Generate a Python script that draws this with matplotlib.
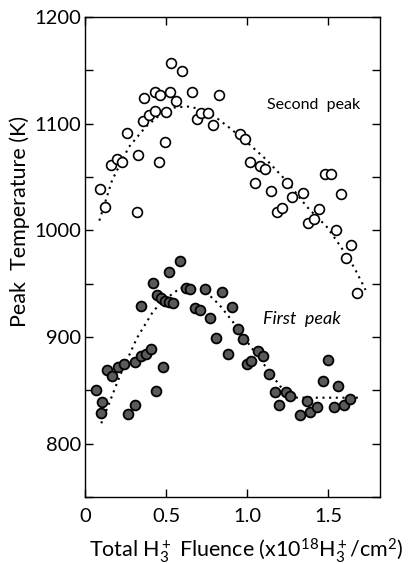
import matplotlib
matplotlib.use("Agg")
import matplotlib.pyplot as plt
from matplotlib.ticker import MultipleLocator

plt.rcParams['font.family'] = ['Lato', 'DejaVu Sans']
plt.rcParams['mathtext.fontset'] = 'custom'
plt.rcParams['mathtext.rm'] = 'Lato'
plt.rcParams['mathtext.it'] = 'Lato'

# Second peak (open circles)
second_x = [0.090, 0.121, 0.160, 0.196, 0.229, 0.260, 0.322, 0.328, 0.359, 0.365,
            0.392, 0.430, 0.432, 0.457, 0.465, 0.494, 0.498, 0.523, 0.527, 0.562,
            0.595, 0.657, 0.688, 0.717, 0.757, 0.788, 0.825, 0.955, 0.987, 1.017,
            1.047, 1.078, 1.111, 1.146, 1.181, 1.212, 1.247, 1.279, 1.345, 1.376,
            1.411, 1.442, 1.477, 1.514, 1.548, 1.581, 1.610, 1.641, 1.674]
second_y = [1039, 1022, 1061, 1067, 1064, 1091, 1017, 1071, 1102, 1124,
            1108, 1112, 1130, 1064, 1127, 1083, 1111, 1130, 1157, 1121,
            1149, 1130, 1104, 1110, 1110, 1099, 1127, 1090, 1086, 1064,
            1044, 1060, 1057, 1037, 1017, 1021, 1044, 1031, 1035, 1007,
            1011, 1020, 1053, 1053, 1000, 1034, 974, 986, 941]

# First peak (filled circles)
first_x = [0.069, 0.100, 0.102, 0.136, 0.169, 0.206, 0.237, 0.266, 0.305, 0.305,
           0.343, 0.345, 0.374, 0.409, 0.417, 0.438, 0.444, 0.469, 0.479, 0.494,
           0.517, 0.519, 0.543, 0.583, 0.620, 0.645, 0.678, 0.709, 0.742, 0.773,
           0.809, 0.844, 0.881, 0.908, 0.943, 0.974, 1.001, 1.026, 1.067, 1.098,
           1.136, 1.171, 1.198, 1.239, 1.264, 1.326, 1.368, 1.388, 1.430, 1.467,
           1.498, 1.533, 1.560, 1.599, 1.632]
first_y = [850, 829, 839, 869, 863, 872, 875, 828, 836, 876,
           929, 882, 884, 889, 951, 849, 939, 936, 872, 934,
           961, 933, 932, 971, 946, 945, 927, 925, 945, 918,
           899, 942, 884, 928, 907, 898, 875, 877, 887, 882,
           865, 848, 836, 848, 845, 827, 840, 830, 834, 859,
           878, 834, 854, 836, 842]

# Dotted trend curves
second_fit_x = [0.088, 0.167, 0.27, 0.374, 0.477, 0.55, 0.632, 0.70, 0.788, 0.891,
                0.995, 1.119, 1.243, 1.368, 1.492, 1.575, 1.66, 1.73]
second_fit_y = [1009, 1047, 1078, 1097, 1110, 1115, 1116, 1114, 1108, 1096,
                1083, 1066, 1046, 1022, 1003, 985, 965, 944]
first_fit_x = [0.100, 0.216, 0.32, 0.424, 0.527, 0.589, 0.622, 0.746, 0.767, 0.829,
               0.912, 1.016, 1.119, 1.222, 1.306, 1.709]
first_fit_y = [819, 864, 899, 925, 939, 946, 946, 944, 939, 930,
               914, 892, 871, 850, 843, 843]

fig = plt.figure(figsize=(4.11, 5.64), dpi=100)
ax = fig.add_axes([0.207, 0.119, 0.718, 0.851])

ax.plot(second_fit_x, second_fit_y, linestyle=(0, (1, 2.2)), color='black', lw=1.5)
ax.plot(first_fit_x, first_fit_y, linestyle=(0, (1, 2.2)), color='black', lw=1.5)
ax.scatter(second_x, second_y, s=50, facecolors='white', edgecolors='black',
           linewidths=1.2, zorder=3)
ax.scatter(first_x, first_y, s=50, facecolors='#5a5a5a', edgecolors='black',
           linewidths=1.3, zorder=3)

ax.text(1.41, 1117, 'Second  peak', ha='center', va='center', fontsize=11.5,
        color='black')
ax.text(1.34, 917, 'First  peak', ha='center', va='center', fontsize=13,
        style='italic', color='black')

ax.set_xlim(0, 1.82)
ax.set_ylim(750, 1200)
ax.yaxis.set_major_locator(MultipleLocator(100))
ax.yaxis.set_minor_locator(MultipleLocator(50))
ax.set_xticks([0, 0.5, 1.0, 1.5])
ax.set_xticklabels(['0', '0.5', '1.0', '1.5'])
ax.tick_params(which='both', direction='in', top=True, right=True,
               length=6, width=1, labelsize=14.5, labelcolor='black')
ax.tick_params(axis='y', pad=3)
ax.tick_params(axis='x', pad=8)
for sp in ax.spines.values():
    sp.set_linewidth(1.0)

ax.set_ylabel('Peak  Temperature (K)', fontsize=15.5, color='black')
ax.yaxis.set_label_coords(-0.188, 0.573)
ax.set_xlabel(r'Total H$_3^+$ Fluence (x10$^{18}$H$_3^+$/cm$^2$)', fontsize=15.5,
              color='black')
ax.xaxis.set_label_coords(0.544, -0.083)

fig.savefig('out.png', dpi=100)
